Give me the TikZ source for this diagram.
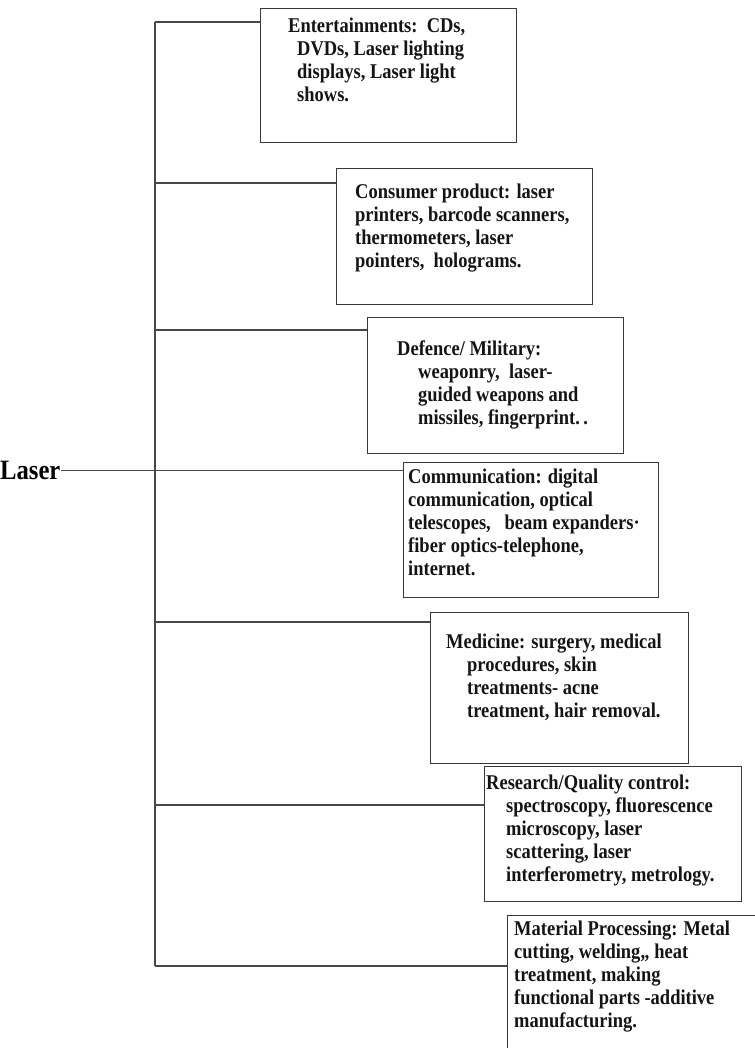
\documentclass[tikz,border=0pt]{standalone}
\usepackage{fontspec}
\setmainfont{Liberation Serif}[FakeStretch=0.88]
\begin{document}
\begin{tikzpicture}[x=1pt,y=-1pt,
  box/.style={draw=black!78, line width=1.3pt, anchor=north west, inner sep=0pt},
  txt/.style={anchor=north west, align=left, inner sep=0pt,
    font=\fontsize{21}{23}\selectfont\bfseries, text=black!92},
  link/.style={draw=black!72, line width=1.6pt},
  thin/.style={draw=black!72, line width=0.9pt}]
\useasboundingbox (0,0) rectangle (754,1048);

% boxes
\node[box, minimum width=256pt, minimum height=134pt] (ent) at (260,8) {};
\node[box, minimum width=256pt, minimum height=136pt] (cons) at (336,168) {};
\node[box, minimum width=256pt, minimum height=136pt] (def) at (367,317) {};
\node[box, minimum width=255pt, minimum height=135pt] (com) at (403,462) {};
\node[box, minimum width=258pt, minimum height=151pt] (med) at (430,612) {};
\node[box, minimum width=257pt, minimum height=135pt] (res) at (484,766) {};
\node[box, minimum width=270pt, minimum height=160pt] (mat) at (507,915) {};

% texts
\node[txt] (entT) at (288,18) {Entertainments:\ \ CDs,\\
  \hspace*{9pt}DVDs, Laser lighting\\
  \hspace*{9pt}displays, Laser light\\
  \hspace*{9pt}shows.};
\node[txt] (consT) at (355,184) {Consumer product: laser\\
  printers, barcode scanners,\\
  thermometers, laser\\
  pointers,\ \ holograms.};
\node[txt] (defT) at (397,341) {Defence/ Military:\\
  \hspace*{21pt}weaponry,\ \ laser-\\
  \hspace*{21pt}guided weapons and\\
  \hspace*{21pt}missiles, fingerprint.\,.};
\node[txt] (comT) at (408,469) {Communication: digital\\
  communication, optical\\
  telescopes,\ \ \ beam expanders·\\
  fiber optics-telephone,\\
  internet.};
\node[txt] (medT) at (446,634) {Medicine: surgery, medical\\
  \hspace*{21pt}procedures, skin\\
  \hspace*{21pt}treatments- acne\\
  \hspace*{21pt}treatment, hair removal.};
\node[txt] (resT) at (486,775) {Research/Quality control:\\
  \hspace*{20pt}spectroscopy, fluorescence\\
  \hspace*{20pt}microscopy, laser\\
  \hspace*{20pt}scattering, laser\\
  \hspace*{20pt}interferometry, metrology.};
\node[txt] (matT) at (514,921) {Material Processing: Metal\\
  cutting, welding,, heat\\
  treatment, making\\
  functional parts -additive\\
  manufacturing.};

% root
\node[anchor=west, inner sep=0pt, font=\fontsize{28}{30}\selectfont\bfseries] (laser) at (0,470) {Laser};

% trunk coordinates
\coordinate (t1) at (155,22);
\coordinate (t2) at (155,183);
\coordinate (t3) at (155,330);
\coordinate (t5) at (155,622);
\coordinate (t6) at (155,805);
\coordinate (t7) at (155,966);

\draw[link] (t1) -- (t7);
\draw[link] (t1) -- (t1 -| ent.west);
\draw[link] (t2) -- (t2 -| cons.west);
\draw[link] (t3) -- (t3 -| def.west);
\draw[thin] (laser.east) -- (laser.east -| com.west);
\draw[link] (t5) -- (t5 -| med.west);
\draw[link] (t6) -- (t6 -| res.west);
\draw[link] (t7) -- (t7 -| mat.west);
\end{tikzpicture}
\end{document}
